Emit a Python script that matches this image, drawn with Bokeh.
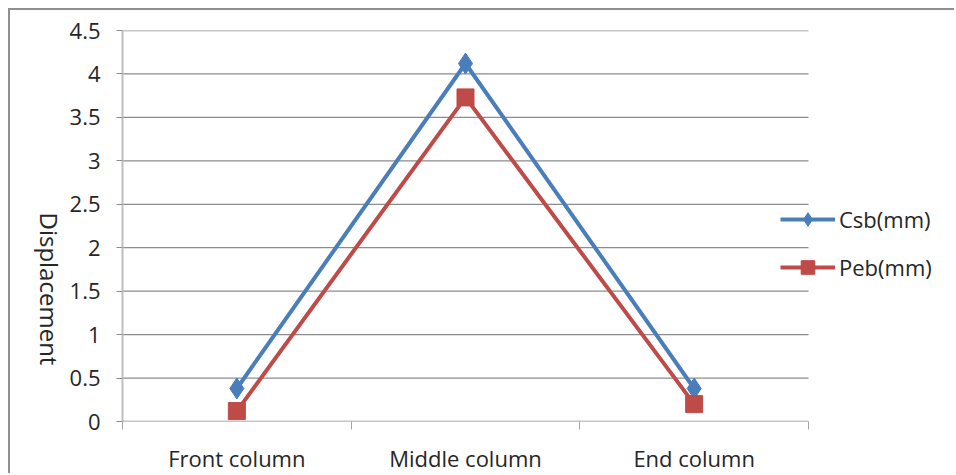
import math
from bokeh.plotting import figure
from bokeh.models import (FixedTicker, Legend, LegendItem, Range1d,
                          ColumnDataSource)
from bokeh.embed import file_html
from bokeh.resources import INLINE

categories = ["Front column", "Middle column", "End column"]
csb = [0.38, 4.12, 0.38]
peb = [0.12, 3.73, 0.20]
y_ticks = [0, 0.5, 1, 1.5, 2, 2.5, 3, 3.5, 4, 4.5]
y_tick_labels = ["0", "0.5", "1", "1.5", "2", "2.5", "3", "3.5", "4", "4.5"]
y_title = "Displacement"

xpos = [i + 0.5 for i in range(len(categories))]
n = len(categories)
FONT = "Open Sans"
TXT = "#262626"

# plot area 112..798 px for categories, the frame runs on to the right edge
W, H = 946, 465
LEFT, TOP, BOTTOM = 112, 20, 53
cat_px = 686
x_end = n * (W - LEFT) / cat_px

p = figure(width=W, height=H, output_backend="svg", toolbar_location=None,
           x_range=Range1d(0, x_end), y_range=Range1d(0, 4.5),
           min_border_left=LEFT, min_border_right=0,
           min_border_top=TOP, min_border_bottom=BOTTOM)
p.styles = {"margin-left": "8px", "margin-top": "8px",
            "border-left": "2px solid #8f8f8f", "border-top": "2px solid #8f8f8f"}
p.outline_line_color = None
p.background_fill_color = "white"
p.border_fill_color = "white"

# x axis: labels at category centres, tick marks between categories
p.xaxis.ticker = FixedTicker(ticks=xpos, minor_ticks=list(range(n + 1)))
p.xaxis.major_label_overrides = {x: c for x, c in zip(xpos, categories)}
p.xaxis.major_tick_line_color = None
p.xaxis.minor_tick_in = 0
p.xaxis.minor_tick_out = 8
p.xaxis.minor_tick_line_color = "#a6a6a6"
p.xaxis.axis_line_color = None
p.xaxis.major_label_standoff = 13
p.xaxis.major_label_text_font = FONT
p.xaxis.major_label_text_font_size = "22px"
p.xaxis.major_label_text_color = TXT

p.yaxis.ticker = FixedTicker(ticks=y_ticks)
p.yaxis.major_label_overrides = {t: l for t, l in zip(y_ticks, y_tick_labels)}
p.yaxis.minor_tick_line_color = None
p.yaxis.major_tick_in = 0
p.yaxis.major_tick_out = 6
p.yaxis.major_tick_line_color = "#8c8c8c"
p.yaxis.axis_line_color = "#bfbfbf"
p.yaxis.axis_line_width = 2
p.yaxis.major_label_standoff = 16
p.yaxis.major_label_text_font = FONT
p.yaxis.major_label_text_font_size = "22px"
p.yaxis.major_label_text_color = TXT

# y axis title, reading top to bottom, sitting a little below the middle
p.yaxis.axis_label = y_title + "\u00a0" * 9
p.yaxis.axis_label_orientation = -math.pi / 2
p.yaxis.axis_label_align = "start"
p.yaxis.axis_label_standoff = 17
p.yaxis.axis_label_text_font = FONT
p.yaxis.axis_label_text_font_size = "24px"
p.yaxis.axis_label_text_font_style = "normal"
p.yaxis.axis_label_text_color = TXT

p.xgrid.grid_line_color = None
p.ygrid.grid_line_color = None

# horizontal gridlines over the category span only
p.segment(x0=[0] * len(y_ticks), x1=[n] * len(y_ticks), y0=y_ticks, y1=y_ticks,
          line_color="#8c8c8c", line_width=1.3)

src = ColumnDataSource(dict(x=xpos, csb=csb, peb=peb))
l1 = p.line("x", "csb", source=src, line_color="#4a7ebb", line_width=4)
m1 = p.scatter("x", "csb", source=src, marker="diamond", size=21,
               fill_color="#4a7ebb", line_color="#4a7ebb")
l2 = p.line("x", "peb", source=src, line_color="#be4b48", line_width=4)
m2 = p.scatter("x", "peb", source=src, marker="square", size=17,
               fill_color="#be4b48", line_color="#be4b48")

legend = Legend(items=[LegendItem(label="Csb(mm)", renderers=[l1, m1]),
                       LegendItem(label="Peb(mm)", renderers=[l2, m2])],
                location=(658, 137), glyph_width=55, glyph_height=34,
                label_height=34, spacing=14, padding=0, margin=0,
                label_standoff=4, border_line_color=None,
                background_fill_alpha=0, label_text_font=FONT,
                label_text_font_size="22px", label_text_color=TXT)
p.add_layout(legend)

open("out.html", "w").write(file_html(p, INLINE))
